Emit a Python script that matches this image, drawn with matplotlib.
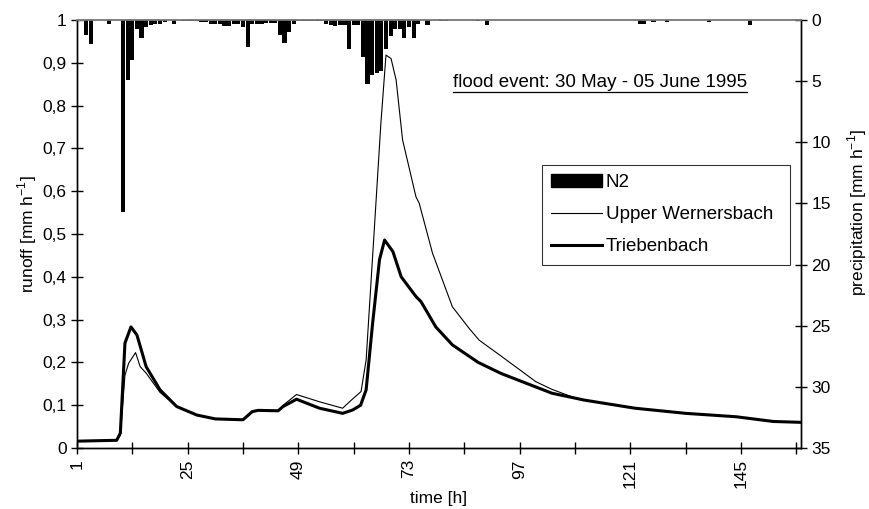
"""
Flood event 30 May - 05 June 1995: runoff of two catchments with
hourly precipitation (station N2) hanging from the top axis.
"""

import matplotlib
matplotlib.use("Agg")
import matplotlib.pyplot as plt
from matplotlib.lines import Line2D
from matplotlib.patches import Patch
from matplotlib.ticker import FuncFormatter, FixedLocator

plt.rcParams["font.family"] = ["Liberation Sans", "DejaVu Sans"]

# ---------------------------------------------------------------------------
# Data
# ---------------------------------------------------------------------------
# precipitation N2 [mm/h]
precip_hours = [3, 4, 8, 11, 12, 13, 14, 15, 16, 17, 18, 19, 20, 22,
                24, 25, 26, 27, 28, 29, 30, 31, 32, 33, 34, 35, 36, 37, 38,
                39, 40, 41, 42, 43, 44, 45, 46, 47, 48, 49, 50, 51, 52, 53,
                54, 55, 56, 57, 58, 59, 60, 61, 62, 63, 64, 65, 66, 67, 68,
                69, 70, 71, 72, 73, 74, 75, 77, 80, 81, 88, 90,
                123, 124, 126, 129, 138, 147]
precip_mm = [1.2, 2.0, 0.3, 15.7, 4.9, 3.3, 0.7, 1.5, 0.6, 0.4, 0.3, 0.3, 0.2, 0.3,
             0.1, 0.1, 0.1, 0.1, 0.2, 0.2, 0.35, 0.35, 0.35, 0.45, 0.45, 0.35, 0.35, 0.55, 2.2,
             0.35, 0.35, 0.35, 0.25, 0.25, 0.25, 1.2, 1.9, 1.0, 0.3, 0.05, 0.05, 0.05, 0.05, 0.05,
             0.05, 0.3, 0.4, 0.5, 0.4, 0.4, 2.4, 0.4, 0.4, 3.0, 5.2, 4.5, 4.3, 4.2, 2.4,
             1.3, 0.7, 0.7, 1.5, 0.6, 1.5, 0.3, 0.4, 0.05, 0.05, 0.1, 0.4,
             0.3, 0.3, 0.2, 0.2, 0.2, 0.4]

# runoff Triebenbach [mm/h]
trieb_hours = [1, 5, 9.6, 10.4, 11.4, 12.7, 14, 16, 19, 22.6, 27, 31, 37, 39,
               40.3, 44.6, 45.7, 48.6, 53.6, 58.6, 60.8, 62.5, 63.7, 65.1, 66.6,
               67.7, 69.5, 71.3, 74.5, 75.6, 78.8, 82.4, 88, 93, 104, 111, 122,
               133, 144, 152, 158]
trieb_runoff = [0.016, 0.017, 0.018, 0.035, 0.245, 0.283, 0.264, 0.19, 0.136, 0.097,
                0.077, 0.068, 0.066, 0.085, 0.088, 0.087, 0.097, 0.114, 0.093, 0.081,
                0.089, 0.10, 0.136, 0.291, 0.44, 0.486, 0.459, 0.40, 0.354, 0.342,
                0.283, 0.241, 0.20, 0.174, 0.128, 0.112, 0.093, 0.081, 0.073, 0.062,
                0.060]

# runoff Upper Wernersbach [mm/h]
wern_hours = [1, 5, 9.6, 10.4, 11.4, 12.2, 13.7, 14.7, 16, 19, 22.6, 27, 31, 37,
              39, 40.3, 44.6, 45.7, 48.6, 53.6, 58.6, 60.5, 62.6, 63.7, 65.1, 66.9,
              68, 69.1, 70.2, 71.6, 74.5, 75.2, 78.1, 82.4, 86, 88.2, 93.2, 100.5,
              104, 109, 111, 122, 133, 144, 152, 158]
wern_runoff = [0.016, 0.017, 0.018, 0.03, 0.17, 0.198, 0.223, 0.19, 0.175, 0.13,
               0.097, 0.077, 0.068, 0.066, 0.085, 0.088, 0.087, 0.10, 0.125, 0.108,
               0.093, 0.112, 0.132, 0.206, 0.447, 0.759, 0.918, 0.91, 0.86, 0.72,
               0.587, 0.572, 0.455, 0.33, 0.28, 0.252, 0.213, 0.155, 0.137, 0.117,
               0.112, 0.093, 0.081, 0.073, 0.062, 0.060]

x_labels = [1, 25, 49, 73, 97, 121, 145]
x_minor = [13, 37, 61, 85, 109, 133, 157]
runoff_ticks = [0, 0.1, 0.2, 0.3, 0.4, 0.5, 0.6, 0.7, 0.8, 0.9, 1.0]
precip_ticks = [0, 5, 10, 15, 20, 25, 30, 35]

FS = 12.5       # tick labels / axis labels
FS_TXT = 13.5   # legend and annotation

# ---------------------------------------------------------------------------
# Figure
# ---------------------------------------------------------------------------
fig = plt.figure(figsize=(8.7, 5.09), dpi=100)
ax = fig.add_axes([0.0885, 0.1198, 0.8322, 0.8409])
ax2 = ax.twinx()

ax.plot(wern_hours, wern_runoff, color="black", lw=0.8, zorder=3)
ax.plot(trieb_hours, trieb_runoff, color="black", lw=2.2, zorder=4)

ax2.bar(precip_hours, precip_mm, width=0.9, color="black", linewidth=0)

ax.set_xlim(1, 158)
ax.set_ylim(0, 1)
ax2.set_ylim(35, 0)

# ticks
ax.xaxis.set_major_locator(FixedLocator(x_labels))
ax.xaxis.set_minor_locator(FixedLocator(x_minor))
ax.set_xticklabels([str(v) for v in x_labels], rotation=90, fontsize=FS)
ax.set_yticks(runoff_ticks)
ax.yaxis.set_major_formatter(FuncFormatter(
    lambda v, p: "0" if v == 0 else ("1" if v == 1 else f"{v:.1f}".replace(".", ","))))
ax2.set_yticks(precip_ticks)

ax.tick_params(axis="both", which="both", direction="inout", length=8,
               width=1, labelsize=FS, color="black")
ax.tick_params(axis="x", which="both", pad=4)
ax2.tick_params(axis="y", direction="inout", length=8, width=1, labelsize=FS)

for a in (ax, ax2):
    a.spines["top"].set_color("#808080")
    a.spines["top"].set_linewidth(1.2)
    for s in ("left", "right", "bottom"):
        a.spines[s].set_color("black")
        a.spines[s].set_linewidth(1.0)

ax.set_xlabel("time [h]", fontsize=FS, labelpad=2)
ax.set_ylabel("runoff [mm h$^{\\mathregular{-1}}$]", fontsize=FS)
ax.yaxis.set_label_coords(-0.052, 0.5)
ax2.set_ylabel("precipitation [mm h$^{\\mathregular{-1}}$]", fontsize=FS)
ax2.yaxis.set_label_coords(1.061, 0.55)

# legend
handles = [
    Patch(facecolor="black", edgecolor="black"),
    Line2D([], [], color="black", lw=0.8),
    Line2D([], [], color="black", lw=2.2),
]
labels = ["N2", "Upper Wernersbach", "Triebenbach"]
leg = ax2.legend(handles, labels, loc="upper left",
                 bbox_to_anchor=(0.642, 0.415, 0.343, 0.247), mode="expand",
                 fontsize=FS_TXT, frameon=True, fancybox=False, edgecolor="black",
                 handlelength=2.7, handletextpad=0.2, labelspacing=0.8,
                 borderpad=0.5, borderaxespad=0.0)
leg.get_frame().set_linewidth(0.8)

# annotation (underlined)
txt = ax.text(0.519, 0.853, "flood event: 30 May - 05 June 1995",
              transform=ax.transAxes, fontsize=FS_TXT, ha="left", va="center")
fig.canvas.draw()
bb = txt.get_window_extent()
W, H = fig.bbox.width, fig.bbox.height
fig.add_artist(Line2D([bb.x0 / W, bb.x1 / W], [(bb.y0 - 1) / H] * 2,
                      transform=fig.transFigure, color="black", lw=0.9))

fig.savefig("out.png", dpi=100)
